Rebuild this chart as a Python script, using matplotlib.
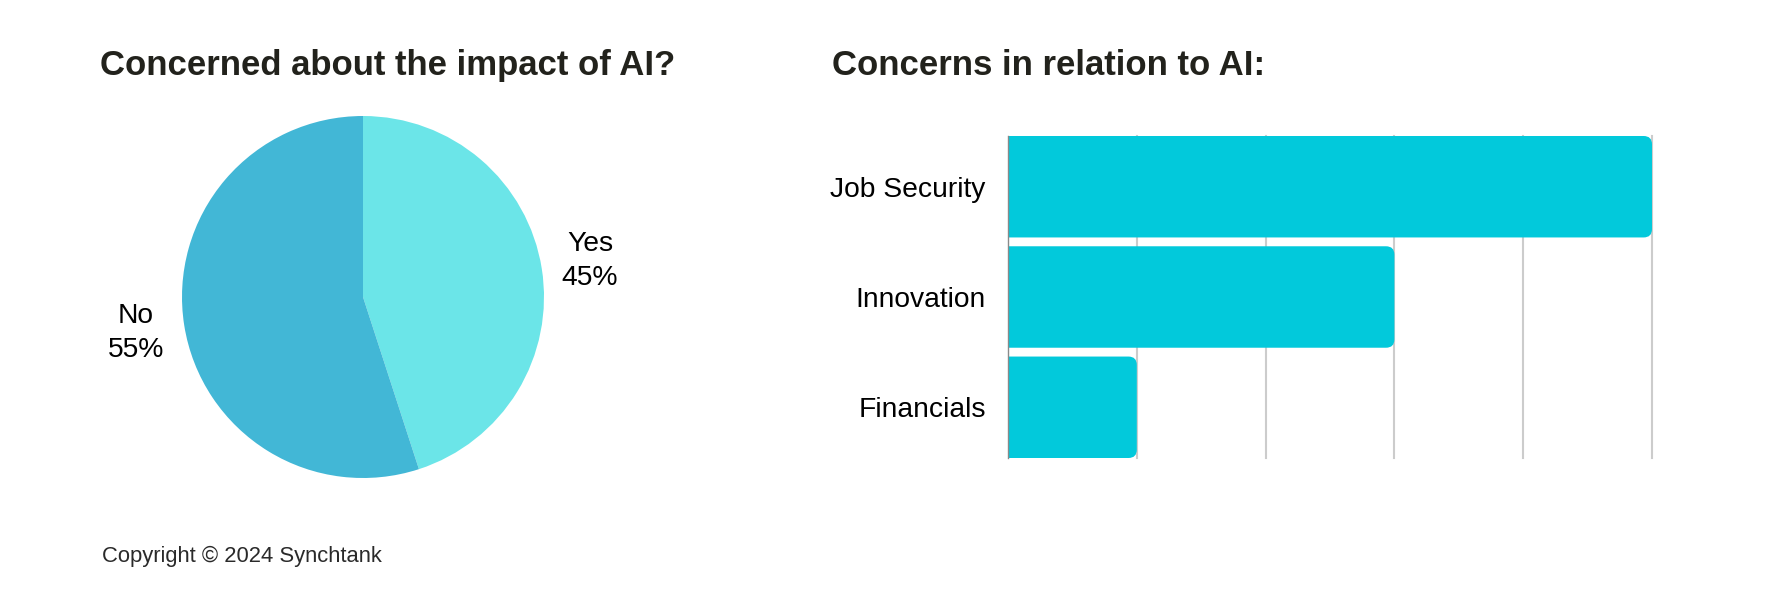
import matplotlib
matplotlib.use('Agg')
import matplotlib.pyplot as plt
from matplotlib.patches import FancyBboxPatch

plt.rcParams['font.family'] = ['Liberation Sans', 'DejaVu Sans']

# pie data
pie_labels = ["Yes", "No"]
pie_values = [45, 55]
pie_colors = ["#6be5e8", "#42b7d6"]

# bar data
bar_labels = ["Job Security", "Innovation", "Financials"]
bar_values = [5, 3, 1]
bar_color = "#02c9db"

title_color = "#22221c"

fig = plt.figure(figsize=(17.86, 5.89), dpi=100)
fig.patch.set_facecolor("white")

# --- pie on the left
ax1 = fig.add_axes([182 / 1786, 111 / 589, 362 / 1786, 362 / 589])
wedges, texts = ax1.pie(pie_values, colors=pie_colors, startangle=90,
                        counterclock=False, radius=1,
                        labels=[f"{l}\n{v}%" for l, v in zip(pie_labels, pie_values)],
                        labeldistance=1.27,
                        wedgeprops=dict(linewidth=0))
for t in texts:
    t.set_ha('center')
    t.set_fontsize(20.3)
    t.set_linespacing(1.4)
    t.set_color("black")
ax1.set_xlim(-1, 1)
ax1.set_ylim(-1, 1)
ax1.set_aspect('equal')

# --- horizontal bars on the right
ax2 = fig.add_axes([1008 / 1786, 131 / 589, 644 / 1786, 322 / 589])
bars = ax2.barh(range(len(bar_values)), bar_values, height=0.92, color=bar_color)
# swap the plain bars for ones with rounded right ends
for rect in bars:
    x, y = rect.get_x(), rect.get_y()
    w, h = rect.get_width(), rect.get_height()
    rect.set_visible(False)
    rp = FancyBboxPatch((x - 0.2, y), w + 0.2, h,
                        boxstyle="round,pad=0,rounding_size=0.065",
                        mutation_aspect=1.17, facecolor=bar_color,
                        edgecolor="none", zorder=2)
    ax2.add_patch(rp)

ax2.set_xlim(0, max(bar_values))
ax2.set_ylim(len(bar_values) - 1 + 0.46, -0.46)
ax2.set_yticks(range(len(bar_labels)))
ax2.set_yticklabels(bar_labels, fontsize=20.3)
ax2.tick_params(axis='y', length=0, pad=16)
ax2.set_xticks(range(1, max(bar_values) + 1))
ax2.tick_params(axis='x', length=0, labelbottom=False)
ax2.grid(axis='x', color="#cccccc", linewidth=1.5)
ax2.set_axisbelow(True)
for g in ax2.get_xgridlines():
    g.set_clip_on(False)
for s in ["top", "right", "bottom"]:
    ax2.spines[s].set_visible(False)
ax2.spines["left"].set_color("#8a8a8a")
ax2.spines["left"].set_linewidth(1)
ax2.spines["left"].set_zorder(3)

# titles and footer
fig.text(100 / 1786, 1 - 75 / 589, "Concerned about the impact of AI?",
         fontsize=25, fontweight='bold', color=title_color, va='baseline')
fig.text(832 / 1786, 1 - 75 / 589, "Concerns in relation to AI:",
         fontsize=25, fontweight='bold', color=title_color, va='baseline')
fig.text(102 / 1786, 1 - 562 / 589, "Copyright \u00a9 2024 Synchtank",
         fontsize=15.8, color="#2a2a2a", va='baseline')

fig.savefig("out.png", dpi=100)
plt.close()
